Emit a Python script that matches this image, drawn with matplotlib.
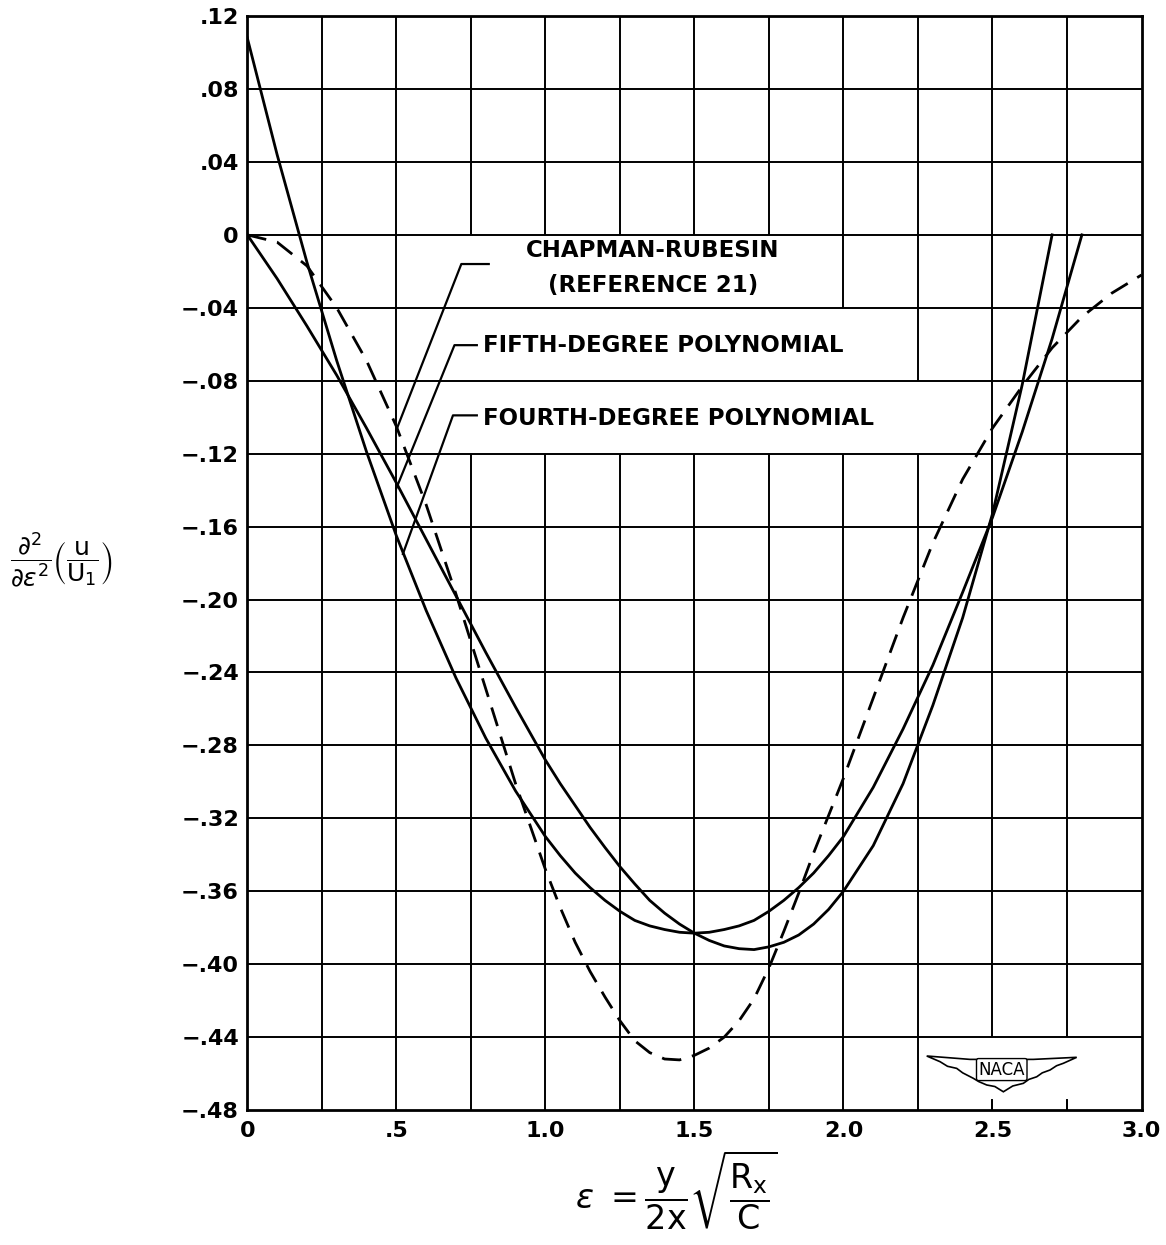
"""Second derivative of the velocity profile across the boundary layer"""
import numpy as np
import matplotlib.pyplot as plt
from matplotlib.patches import Polygon

plt.rcParams['font.family'] = ['DejaVu Sans']
plt.rcParams['mathtext.fontset'] = 'dejavusans'

# Chapman-Rubesin solution (reference 21), dashed
cr_eps = [0, 0.1, 0.2, 0.3, 0.4, 0.5, 0.6, 0.7, 0.8, 0.9, 1.0, 1.05, 1.1,
          1.15, 1.2, 1.25, 1.3, 1.35, 1.4, 1.45, 1.5, 1.55, 1.6, 1.65, 1.7,
          1.75, 1.8, 1.85, 1.9, 2.0, 2.1, 2.2, 2.3, 2.4, 2.5, 2.6, 2.7, 2.8,
          2.9, 3.0]
cr_val = [0, -0.004, -0.017, -0.040, -0.069, -0.105, -0.148, -0.197, -0.249,
          -0.301, -0.348, -0.369, -0.388, -0.404, -0.418, -0.431, -0.442,
          -0.4485, -0.452, -0.4525, -0.450, -0.446, -0.440, -0.431, -0.419,
          -0.402, -0.382, -0.361, -0.339, -0.298, -0.254, -0.210, -0.169,
          -0.134, -0.106, -0.083, -0.062, -0.045, -0.032, -0.022]

# fifth-degree polynomial
p5_eps = [0, 0.1, 0.2, 0.3, 0.4, 0.5, 0.6, 0.7, 0.8, 0.9, 1.0, 1.05, 1.1,
          1.15, 1.2, 1.25, 1.3, 1.35, 1.4, 1.45, 1.5, 1.55, 1.6, 1.65, 1.7,
          1.75, 1.8, 1.85, 1.9, 1.95, 2.0, 2.1, 2.2, 2.3, 2.4, 2.5, 2.6, 2.7]
p5_val = [0, -0.024, -0.050, -0.077, -0.106, -0.136, -0.167, -0.198, -0.229,
          -0.259, -0.288, -0.301, -0.313, -0.325, -0.336, -0.3465, -0.356,
          -0.365, -0.372, -0.378, -0.383, -0.387, -0.390, -0.3915, -0.392,
          -0.3905, -0.388, -0.384, -0.378, -0.370, -0.360, -0.335, -0.301,
          -0.258, -0.210, -0.153, -0.082, 0.0]

# fourth-degree polynomial
p4_eps = [0, 0.1, 0.2, 0.3, 0.4, 0.5, 0.6, 0.7, 0.8, 0.9, 1.0, 1.05, 1.1,
          1.15, 1.2, 1.25, 1.3, 1.35, 1.4, 1.45, 1.5, 1.55, 1.6, 1.65, 1.7,
          1.75, 1.8, 1.85, 1.9, 1.95, 2.0, 2.1, 2.2, 2.3, 2.4, 2.5, 2.6,
          2.7, 2.8]
p4_val = [0.108, 0.044, -0.015, -0.069, -0.119, -0.165, -0.206, -0.243,
          -0.276, -0.305, -0.330, -0.3405, -0.350, -0.358, -0.365, -0.371,
          -0.376, -0.379, -0.381, -0.3825, -0.383, -0.3825, -0.381, -0.379,
          -0.376, -0.371, -0.365, -0.358, -0.350, -0.3405, -0.330, -0.303,
          -0.271, -0.236, -0.196, -0.155, -0.108, -0.057, 0.0]

x_ticks = [0, 0.5, 1.0, 1.5, 2.0, 2.5, 3.0]
x_labels = ['0', '.5', '1.0', '1.5', '2.0', '2.5', '3.0']
y_ticks = [0.12, 0.08, 0.04, 0, -0.04, -0.08, -0.12, -0.16, -0.20, -0.24,
           -0.28, -0.32, -0.36, -0.40, -0.44, -0.48]
y_labels = ['.12', '.08', '.04', '0', '\u2212.04', '\u2212.08', '\u2212.12',
            '\u2212.16', '\u2212.20', '\u2212.24', '\u2212.28', '\u2212.32',
            '\u2212.36', '\u2212.40', '\u2212.44', '\u2212.48']

XMIN, XMAX, YMIN, YMAX = 0.0, 3.0, -0.48, 0.12
INK = 'black'

fig = plt.figure(figsize=(11.66, 12.45), dpi=100)
ax = fig.add_axes([0.2121, 0.1084, 0.7669, 0.8787])
ax.set_xlim(XMIN, XMAX)
ax.set_ylim(YMIN, YMAX)

# grid cells left blank behind the curve labels and the emblem
blank = [((0.6, 1.9), (-0.04, 0.0)),
         ((0.6, 2.1), (-0.08, -0.04)),
         ((0.6, 2.4), (-0.12, -0.08)),
         ((2.3, 2.8), (-0.4745, -0.44))]


def vertical_segments(x):
    """pieces of the vertical grid line at x that are not blanked out"""
    cuts = sorted(yr for xr, yr in blank if xr[0] < x < xr[1])
    segs, start = [], YMIN
    for lo, hi in cuts:
        if lo > start:
            segs.append((start, lo))
        start = max(start, hi)
    if start < YMAX:
        segs.append((start, YMAX))
    return segs


for x in np.arange(0.25, 3.0, 0.25):
    for lo, hi in vertical_segments(round(x, 2)):
        ax.plot([x, x], [lo, hi], color=INK, lw=1.4, zorder=1,
                solid_capstyle='butt')
for y in y_ticks[1:-1]:
    ax.axhline(y, color=INK, lw=1.4, zorder=1)

# curves
ax.plot(cr_eps, cr_val, color=INK, lw=2.0, dashes=(7, 4), zorder=3,
        solid_joinstyle='round')
ax.plot(p5_eps, p5_val, color=INK, lw=2.0, zorder=3, solid_joinstyle='round')
ax.plot(p4_eps, p4_val, color=INK, lw=2.0, zorder=3, solid_joinstyle='round')

# labels with leaders
label_kw = dict(fontsize=16.5, fontweight='bold', color=INK, zorder=4)
ax.plot([0.5, 0.718, 0.81], [-0.107, -0.016, -0.016], color=INK, lw=1.6)
ax.text(1.36, -0.0085, 'CHAPMAN-RUBESIN', ha='center', va='center',
        **label_kw)
ax.text(1.36, -0.0277, '(REFERENCE 21)', ha='center', va='center',
        **label_kw)
ax.plot([0.5, 0.695, 0.77], [-0.139, -0.0605, -0.0605], color=INK, lw=1.6)
ax.text(0.79, -0.0605, 'FIFTH-DEGREE POLYNOMIAL', ha='left', va='center',
        **label_kw)
ax.plot([0.522, 0.69, 0.77], [-0.175, -0.099, -0.099], color=INK, lw=1.6)
ax.text(0.79, -0.1005, 'FOURTH-DEGREE POLYNOMIAL', ha='left', va='center',
        **label_kw)

# NACA wing emblem, lower right
wing = [(0.7598, 0.0494), (0.8082, 0.0463), (0.879, 0.0463), (0.9275, 0.0482),
        (0.9125, 0.0427), (0.905, 0.0405), (0.8977, 0.0366), (0.889, 0.034),
        (0.8828, 0.0304), (0.874, 0.028), (0.8678, 0.0244), (0.856, 0.022),
        (0.8455, 0.0167), (0.836, 0.0215), (0.8269, 0.0229), (0.818, 0.026),
        (0.8119, 0.029), (0.80, 0.034), (0.7933, 0.0381), (0.783, 0.040),
        (0.7747, 0.0442)]
ax.add_patch(Polygon(wing, closed=True, transform=ax.transAxes,
                     facecolor='white', edgecolor=INK, lw=1.2, zorder=5))
ax.text(0.8437, 0.037, 'NACA', transform=ax.transAxes, ha='center',
        va='center', fontsize=12, color=INK, zorder=6,
        bbox=dict(boxstyle='round,pad=0.12', fc='white', ec=INK, lw=1.0))
for x in (2.5, 2.75):
    ax.plot([x, x], [YMIN, -0.4745], color=INK, lw=1.4, zorder=1)

for side in ax.spines.values():
    side.set_linewidth(2.0)

ax.set_xticks(x_ticks, x_labels)
ax.set_yticks(y_ticks, y_labels)
ax.tick_params(axis='x', length=0, pad=8, labelsize=16)
ax.tick_params(axis='y', length=0, pad=6, labelsize=16)
for lab in ax.get_xticklabels() + ax.get_yticklabels():
    lab.set_fontweight('bold')

fig.text(62 / 1166, 1 - 560 / 1245,
         r'$\dfrac{\partial^2}{\partial\epsilon^2}'
         r'\left(\dfrac{\mathrm{u}}{\mathrm{U_1}}\right)$',
         ha='center', va='center', fontsize=18)
fig.text(676 / 1166, 1 - 1190 / 1245,
         r'$\epsilon\ =\dfrac{\mathrm{y}}{\mathrm{2x}}'
         r'\sqrt{\dfrac{\mathrm{R_x}}{\mathrm{C}}}$',
         ha='center', va='center', fontsize=24)

fig.savefig('out.png', dpi=100, facecolor='white')
